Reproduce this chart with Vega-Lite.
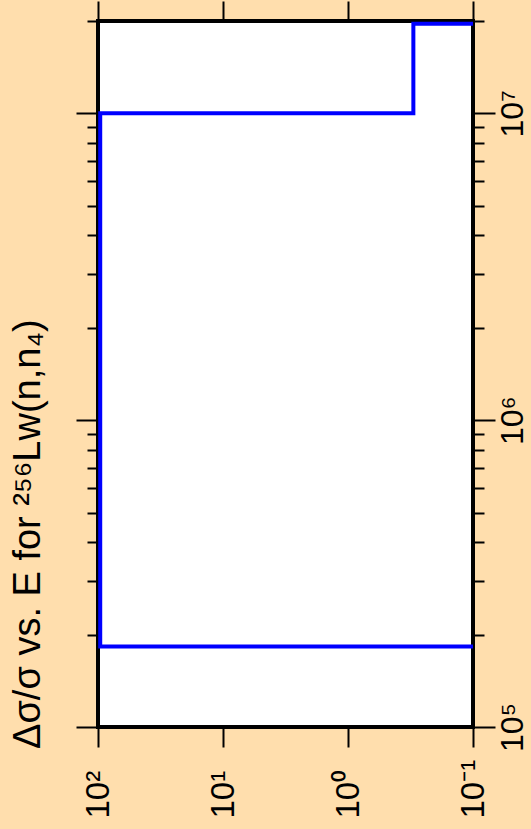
{
  "$schema": "https://vega.github.io/schema/vega-lite/v6.json",
  "width": 375,
  "height": 706,
  "autosize": {"type": "none"},
  "padding": {"left": 98, "top": 21, "right": 58, "bottom": 102},
  "background": "#FFDEAD",
  "title": {
    "text": "Δσ/σ vs. E for ²⁵⁶Lw(n,n₄)",
    "orient": "left",
    "anchor": "start",
    "frame": "group",
    "offset": -3,
    "baseline": "alphabetic",
    "dx": -22,
    "font": "Liberation Sans",
    "fontSize": 38,
    "fontWeight": "normal",
    "color": "black"
  },
  "data": {
    "values": [
      {"E": 100000, "ratio": 0.01},
      {"E": 183000, "ratio": 96},
      {"E": 10000000, "ratio": 0.3},
      {"E": 19600000, "ratio": 0.01}
    ]
  },
  "layer": [
    {
      "mark": {"type": "line", "interpolate": "step-before", "color": "#0000ff", "strokeWidth": 4, "clip": true},
      "encoding": {
        "x": {
          "field": "ratio", "type": "quantitative",
          "scale": {"type": "log", "domain": [0.1, 100], "reverse": true, "nice": false},
          "axis": {
            "orient": "bottom", "title": null,
            "values": [0.1, 1, 10, 100],
            "labelExpr": "datum.value == 100 ? '10²' : datum.value == 10 ? '10¹' : datum.value == 1 ? '10⁰' : datum.value == 0.1 ? '10⁻¹' : ''",
            "tickSize": 20, "labelAngle": -90, "labelAlign": "left", "labelBaseline": "middle",
            "labelPadding": 71, "labelFlush": false, "labelOverlap": false
          }
        },
        "y": {
          "field": "E", "type": "quantitative",
          "scale": {"type": "log", "domain": [100000, 20000000], "nice": false},
          "axis": {
            "orient": "right", "title": null,
            "values": [100000, 200000, 300000, 400000, 500000, 600000, 700000, 800000, 900000, 1000000, 2000000, 3000000, 4000000, 5000000, 6000000, 7000000, 8000000, 9000000, 10000000, 20000000],
            "labelExpr": "datum.value == 100000 ? '10⁵' : datum.value == 1000000 ? '10⁶' : datum.value == 10000000 ? '10⁷' : ''",
            "tickSize": {"condition": {"test": "datum.value == 100000 || datum.value == 1000000 || datum.value == 10000000", "value": 22}, "value": 11},
            "labelAngle": -90, "labelAlign": "center", "labelBaseline": "top",
            "labelPadding": 2, "labelFontSize": 32, "labelFlush": false, "labelOverlap": false
          }
        },
        "order": {"field": "E", "type": "quantitative"}
      }
    },
    {
      "mark": {"type": "point", "opacity": 0},
      "encoding": {
        "x": {
          "field": "ratio", "type": "quantitative",
          "axis": {"orient": "top", "title": null, "values": [0.1, 1, 10, 100], "labels": false, "tickSize": 20}
        },
        "y": {
          "field": "E", "type": "quantitative",
          "axis": {
            "orient": "left", "title": null, "labels": false,
            "values": [100000, 200000, 300000, 400000, 500000, 600000, 700000, 800000, 900000, 1000000, 2000000, 3000000, 4000000, 5000000, 6000000, 7000000, 8000000, 9000000, 10000000, 20000000],
            "tickSize": {"condition": {"test": "datum.value == 100000 || datum.value == 1000000 || datum.value == 10000000", "value": 22}, "value": 11}
          }
        }
      }
    }
  ],
  "resolve": {"axis": {"x": "independent", "y": "independent"}},
  "config": {
    "view": {"stroke": "black", "strokeWidth": 4, "fill": "white"},
    "axis": {
      "domain": false, "grid": false,
      "tickColor": "black", "tickWidth": 2,
      "labelColor": "black", "labelFont": "Liberation Sans", "labelFontSize": 33
    }
  }
}
